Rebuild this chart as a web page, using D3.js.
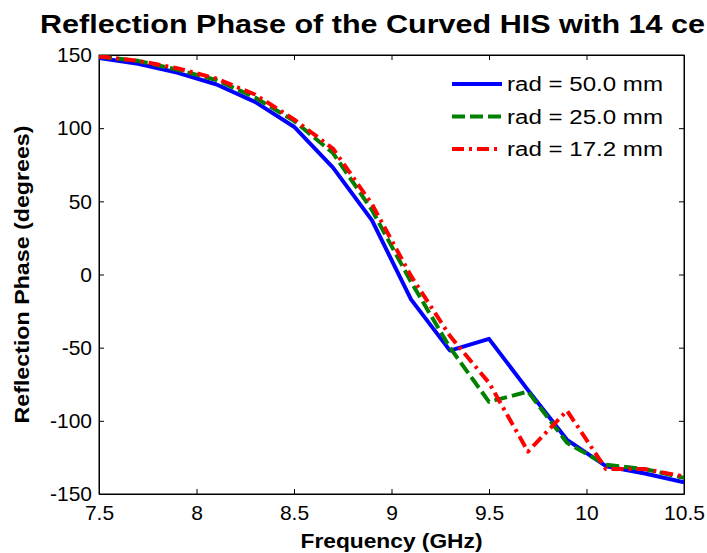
<!DOCTYPE html>
<html>
<head>
<meta charset="UTF-8">
<script src="https://d3js.org/d3.v7.min.js"></script>
<style>
  body { margin: 0; background: #fff; }
  text { font-family: "Liberation Sans", Arial, sans-serif; fill: #000; }
  .axis path, .axis line { stroke: #000; }
</style>
</head>
<body>
<svg id="chart"></svg>
<script>
// data
var freq   = [7.5, 7.7, 7.9, 8.1, 8.3, 8.5, 8.7, 8.9, 9.1, 9.3, 9.5, 9.7, 9.9, 10.1, 10.3, 10.5];
var rad50  = [148, 144, 138, 130, 118, 101, 73, 37, -17, -52, -44, -79, -113, -131, -136, -142];
var rad25  = [149, 146, 140, 133, 121, 105, 83, 44, -5, -50, -87, -80, -115, -130, -133, -139];
var rad172 = [149, 146, 141, 134, 123, 106, 86, 48, -1, -42, -74, -121, -93, -133, -133, -138];
var seriesNames = ["rad = 50.0 mm", "rad = 25.0 mm", "rad = 17.2 mm"];
var xTicks = [7.5, 8, 8.5, 9, 9.5, 10, 10.5];
var yTicks = [150, 100, 50, 0, -50, -100, -150];

var width = 707, height = 553;
var margin = {left: 99, right: 23, top: 55, bottom: 59};
var pw = width - margin.left - margin.right,
    ph = height - margin.top - margin.bottom;

var svg = d3.select("#chart")
    .attr("width", width)
    .attr("height", height);

var x = d3.scaleLinear().domain([7.5, 10.5]).range([0, pw]);
var y = d3.scaleLinear().domain([-150, 150]).range([ph, 0]);

var g = svg.append("g")
    .attr("transform", `translate(${margin.left},${margin.top})`);

// title: the original picture only shows it up to "14 ce"
svg.append("text")
    .attr("x", 40)
    .attr("y", 33)
    .attr("textLength", 665)
    .attr("lengthAdjust", "spacingAndGlyphs")
    .style("font-size", "25px")
    .style("font-weight", "bold")
    .text("Reflection Phase of the Curved HIS with 14 ce");

g.append("defs").append("clipPath")
    .attr("id", "clip")
    .append("rect")
    .attr("width", pw)
    .attr("height", ph);

// box + inward ticks on all sides
var tick = 5;
g.append("g").attr("class", "axis")
    .attr("transform", `translate(0,${ph})`)
    .call(d3.axisBottom(x).tickValues(xTicks).tickSizeInner(-tick).tickSizeOuter(0).tickPadding(9)
        .tickFormat(d3.format("")))
    .call(a => a.selectAll("text").style("font-size", "21px").attr("dy", "0.8em"));

g.append("g").attr("class", "axis")
    .call(d3.axisTop(x).tickValues(xTicks).tickSizeInner(-tick).tickSizeOuter(0).tickFormat(""));

g.append("g").attr("class", "axis")
    .call(d3.axisLeft(y).tickValues(yTicks).tickSizeInner(-tick).tickSizeOuter(0).tickPadding(7)
        .tickFormat(d => d < 0 ? "-" + Math.abs(d) : String(d)))
    .call(a => a.selectAll("text").style("font-size", "21px"));

g.append("g").attr("class", "axis")
    .attr("transform", `translate(${pw},0)`)
    .call(d3.axisRight(y).tickValues(yTicks).tickSizeInner(-tick).tickSizeOuter(0).tickFormat(""));

g.append("rect")
    .attr("width", pw)
    .attr("height", ph)
    .style("fill", "none")
    .style("stroke", "#000")
    .style("stroke-width", 1);

// axis labels
svg.append("text")
    .attr("x", margin.left + pw / 2)
    .attr("y", 548)
    .attr("text-anchor", "middle")
    .attr("textLength", 182)
    .attr("lengthAdjust", "spacingAndGlyphs")
    .style("font-size", "20px")
    .style("font-weight", "bold")
    .text("Frequency (GHz)");

svg.append("text")
    .attr("transform", `translate(29,${margin.top + ph / 2}) rotate(-90)`)
    .attr("text-anchor", "middle")
    .attr("textLength", 298)
    .attr("lengthAdjust", "spacingAndGlyphs")
    .style("font-size", "20px")
    .style("font-weight", "bold")
    .text("Reflection Phase (degrees)");

// curves
var series = [
    {name: seriesNames[0], values: rad50,  color: "#0000ff", dash: null},
    {name: seriesNames[1], values: rad25,  color: "#008000", dash: "13,5"},
    {name: seriesNames[2], values: rad172, color: "#ff0000", dash: "12,5,3,5"}
];

var line = d3.line()
    .x((d, i) => x(freq[i]))
    .y(d => y(d));

g.append("g")
    .attr("clip-path", "url(#clip)")
    .selectAll("path")
    .data(series)
    .enter().append("path")
    .attr("d", d => line(d.values))
    .style("fill", "none")
    .style("stroke", d => d.color)
    .style("stroke-width", 4)
    .style("stroke-dasharray", d => d.dash)
    .style("stroke-linejoin", "round");

// legend
var legend = svg.append("g")
    .attr("transform", "translate(452,84)");

var rows = legend.selectAll("g")
    .data(series)
    .enter().append("g")
    .attr("transform", (d, i) => `translate(0,${i * 32.5})`);

rows.append("line")
    .attr("x1", 0).attr("x2", 50)
    .style("stroke", d => d.color)
    .style("stroke-width", 4)
    .style("stroke-dasharray", d => d.dash);

rows.append("text")
    .attr("x", 55)
    .attr("dy", "0.35em")
    .attr("textLength", 156)
    .attr("lengthAdjust", "spacingAndGlyphs")
    .style("font-size", "20px")
    .text(d => d.name);
</script>
</body>
</html>
